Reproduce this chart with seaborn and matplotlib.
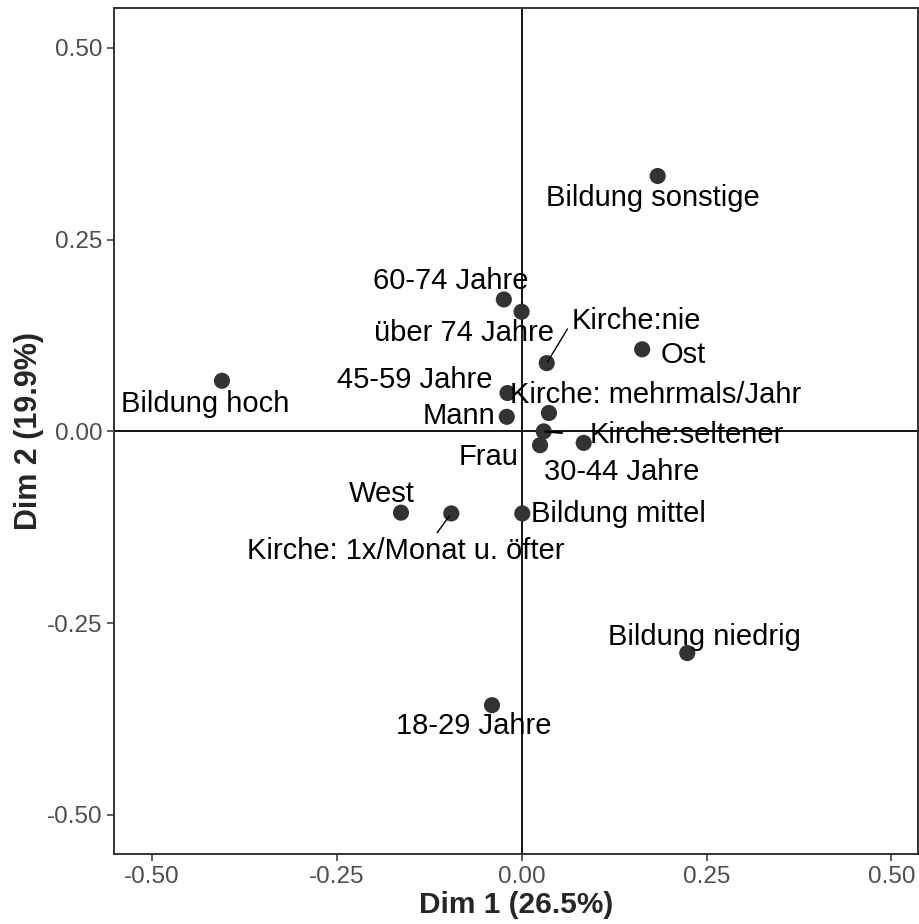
import matplotlib
matplotlib.use("Agg")
import matplotlib.pyplot as plt
import pandas as pd
import seaborn as sns

# ---- data ----
labels = [
    "Bildung sonstige", "60-74 Jahre", "über 74 Jahre", "Kirche:nie", "Ost",
    "Bildung hoch", "45-59 Jahre", "Kirche: mehrmals/Jahr", "Mann",
    "Kirche:seltener", "Frau", "30-44 Jahre", "West",
    "Kirche: 1x/Monat u. öfter", "Bildung mittel", "Bildung niedrig", "18-29 Jahre",
]
dim1 = [0.184, -0.024, 0.000, 0.034, 0.163, -0.405, -0.019, 0.037, -0.020,
        0.030, 0.025, 0.084, -0.163, -0.095, 0.001, 0.224, -0.040]
dim2 = [0.333, 0.172, 0.156, 0.089, 0.107, 0.066, 0.050, 0.024, 0.019,
        0.000, -0.018, -0.015, -0.106, -0.107, -0.107, -0.289, -0.357]

inertia = [26.5, 19.9]
ticks = [-0.50, -0.25, 0.00, 0.25, 0.50]

df = pd.DataFrame({"label": labels, "dim1": dim1, "dim2": dim2})

# label placement (repelled positions, data units) + which ones get a segment
label_pos = {
    "Bildung sonstige": (0.177, 0.304),
    "60-74 Jahre": (-0.096, 0.196),
    "über 74 Jahre": (-0.078, 0.128),
    "Kirche:nie": (0.155, 0.144),
    "Ost": (0.219, 0.100),
    "Bildung hoch": (-0.427, 0.036),
    "45-59 Jahre": (-0.145, 0.067),
    "Kirche: mehrmals/Jahr": (0.181, 0.047),
    "Mann": (-0.084, 0.020),
    "Kirche:seltener": (0.224, -0.005),
    "Frau": (-0.045, -0.033),
    "30-44 Jahre": (0.136, -0.053),
    "West": (-0.189, -0.082),
    "Kirche: 1x/Monat u. öfter": (-0.157, -0.156),
    "Bildung mittel": (0.131, -0.108),
    "Bildung niedrig": (0.247, -0.268),
    "18-29 Jahre": (-0.065, -0.384),
}
# relpos on the text box, shrink at text, shrink at point, line width
segments = {
    "Kirche:nie": ((0.0, 0.45), 1, 1, 1.0),
    "Kirche:seltener": ((0.0, 0.5), 18, 1, 1.6),
    "Kirche: 1x/Monat u. öfter": ((0.59, 1.0), 1, 2, 1.0),
}

# ---- plot ----
sns.set_style("ticks")
plt.rcParams["font.family"] = ["Liberation Sans", "DejaVu Sans"]

fig = plt.figure(figsize=(9.19, 9.24), dpi=100)
ax = fig.add_axes([0.124, 0.0758, 0.875, 0.9155])

ax.axhline(0, color="black", lw=1.3, zorder=1)
ax.axvline(0, color="black", lw=1.3, zorder=1)

sns.scatterplot(data=df, x="dim1", y="dim2", ax=ax, color="#333333",
                s=135, edgecolor="none", zorder=3, legend=False)

for _, r in df.iterrows():
    tx, ty = label_pos[r["label"]]
    if r["label"] in segments:
        rel, sa, sb, lw = segments[r["label"]]
        ax.annotate(r["label"], xy=(r["dim1"], r["dim2"]), xytext=(tx, ty),
                    ha="center", va="center", fontsize=21, color="black",
                    arrowprops=dict(arrowstyle="-", color="black", lw=lw,
                                    relpos=rel, shrinkA=sa, shrinkB=sb),
                    zorder=4)
    else:
        ax.text(tx, ty, r["label"], ha="center", va="center", fontsize=21,
                color="black", zorder=4)

ax.set_xlim(-0.551, 0.536)
ax.set_ylim(-0.551, 0.552)
ax.set_xticks(ticks)
ax.set_yticks(ticks)
ax.set_xticklabels([f"{t:.2f}" for t in ticks])
ax.set_yticklabels([f"{t:.2f}" for t in ticks])
ax.tick_params(axis="both", labelsize=17.5, colors="#333333", labelcolor="#4D4D4D",
               length=5, width=1.1, direction="out")

for sp in ax.spines.values():
    sp.set_visible(True)
    sp.set_color("#333333")
    sp.set_linewidth(1.4)

ax.set_xlabel(f"Dim 1 ({inertia[0]}%)", fontsize=21.5, fontweight="bold", labelpad=2)
ax.set_ylabel(f"Dim 2 ({inertia[1]}%)", fontsize=22, fontweight="bold", labelpad=2)
ax.grid(False)

fig.savefig("out.png", dpi=100)
plt.close(fig)
